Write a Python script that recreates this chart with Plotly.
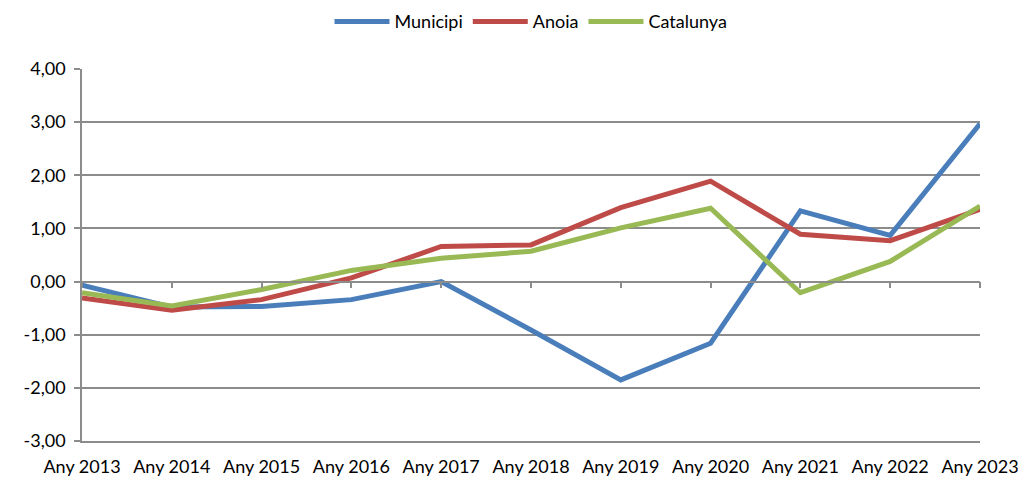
import plotly.graph_objects as go

categories = ["Any 2013", "Any 2014", "Any 2015", "Any 2016", "Any 2017", "Any 2018",
              "Any 2019", "Any 2020", "Any 2021", "Any 2022", "Any 2023"]
municipi = [-0.07, -0.48, -0.47, -0.34, 0.00, -0.91, -1.85, -1.16, 1.33, 0.87, 2.97]
anoia = [-0.31, -0.54, -0.34, 0.07, 0.66, 0.69, 1.39, 1.89, 0.89, 0.77, 1.36]
catalunya = [-0.21, -0.46, -0.15, 0.21, 0.44, 0.57, 1.01, 1.38, -0.21, 0.38, 1.42]
y_ticks = [-3, -2, -1, 0, 1, 2, 3, 4]
y_labels = ["-3,00", "-2,00", "-1,00", "0,00", "1,00", "2,00", "3,00", "4,00"]

series = [("Municipi", municipi, "#4A7EBB"),
          ("Anoia", anoia, "#BE4B48"),
          ("Catalunya", catalunya, "#98B954")]

xpos = list(range(len(categories)))
grid = "#8C8C8C"
font = "Lato, 'Open Sans', sans-serif"

fig = go.Figure()
# helper trace for the zero category axis (ticks at y=0)
fig.add_trace(go.Scatter(x=[], y=[], xaxis="x2", yaxis="y", showlegend=False, hoverinfo="skip"))
for name, vals, col in series:
    fig.add_trace(go.Scatter(x=xpos, y=vals, name=name, mode="lines",
                             line=dict(color=col, width=5)))

fig.update_layout(
    width=1018, height=470,
    margin=dict(l=74, r=46, t=61, b=37, autoexpand=False),
    paper_bgcolor="white", plot_bgcolor="white",
    font=dict(family=font, size=18, color="#000000"),
    showlegend=True,
    legend=dict(orientation="h", x=0.5, xanchor="center", xref="paper",
                y=1.127, yanchor="middle", yref="paper", valign="middle",
                font=dict(size=18), itemwidth=55, tracegroupgap=0),
    xaxis=dict(range=[0, 10], tickvals=xpos, ticktext=categories, showgrid=False,
               showline=True, linecolor=grid, linewidth=1.5, ticks="", zeroline=False,
               ticklabelstandoff=9, tickfont=dict(size=18), automargin=False),
    xaxis2=dict(range=[0, 10], overlaying="x", anchor="free", position=3/7,
                tickvals=xpos, showticklabels=False, ticks="outside", ticklen=6,
                tickcolor=grid, tickwidth=1.5, showline=True, linecolor=grid,
                linewidth=1.5, showgrid=False, zeroline=False),
    yaxis=dict(range=[-3, 4], tickvals=y_ticks, ticktext=y_labels, showgrid=True,
               gridcolor=grid, gridwidth=1.5, showline=True, linecolor=grid,
               linewidth=1.5, ticks="outside", ticklen=6, tickcolor=grid, tickwidth=1.5,
               zeroline=False, tickfont=dict(size=18), automargin=False,
               ticklabelstandoff=5),
)

fig.write_html("out.html")
